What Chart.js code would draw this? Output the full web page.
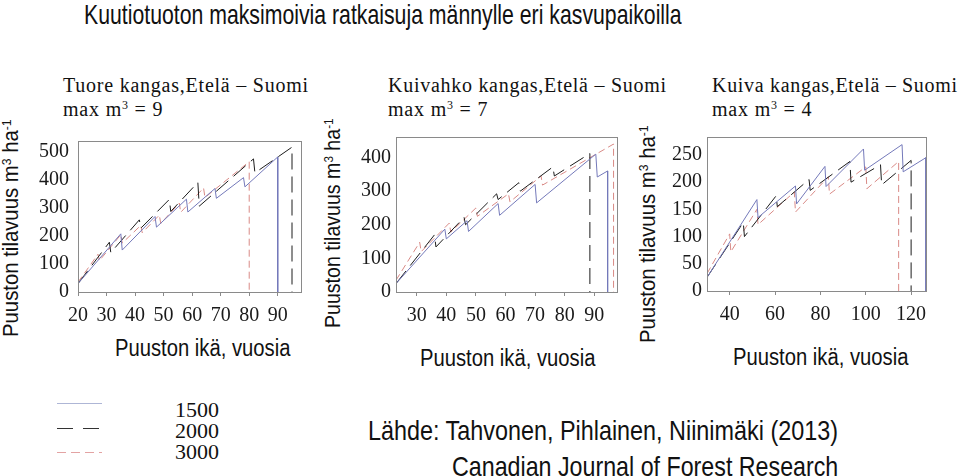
<!DOCTYPE html>
<html>
<head>
<meta charset="utf-8">
<script src="https://cdn.jsdelivr.net/npm/chart.js@4.4.1/dist/chart.umd.min.js"></script>
<style>
  html, body { margin: 0; padding: 0; background: #fff; }
  #page { position: relative; width: 960px; height: 476px; overflow: hidden; }
  .t { position: absolute; white-space: nowrap; line-height: 1; color: #111; transform-origin: left top; }
  .sans { font-family: "Liberation Sans", Arial, sans-serif; }
  .serif { font-family: "Liberation Serif", "Times New Roman", serif; }
  .t sup { font-size: 0.6em; vertical-align: baseline; position: relative; top: -0.55em; }
  canvas { position: absolute; }
  svg { position: absolute; left: 0; top: 380px; }
</style>
</head>
<body>
<div id="page">
  <div class="t sans fitx" data-w="598" style="left:84px;top:1px;font-size:28px;">Kuutiotuoton maksimoivia ratkaisuja männylle eri kasvupaikoilla</div>

  <div class="t serif fits" data-w="246" style="left:63px;top:75px;font-size:20px;">Tuore kangas,Etelä – Suomi</div>
  <div class="t serif fits" data-w="100" style="left:63px;top:99px;font-size:20px;">max m<sup>3</sup> = 9</div>
  <div class="t serif fits" data-w="279" style="left:388px;top:75px;font-size:20px;">Kuivahko kangas,Etelä – Suomi</div>
  <div class="t serif fits" data-w="100" style="left:388px;top:99px;font-size:20px;">max m<sup>3</sup> = 7</div>
  <div class="t serif fits" data-w="246" style="left:712px;top:75px;font-size:20px;">Kuiva kangas,Etelä – Suomi</div>
  <div class="t serif fits" data-w="100" style="left:712px;top:99px;font-size:20px;">max m<sup>3</sup> = 4</div>

  <div class="t sans fitx rot" data-w="218" style="left:0px;top:337px;font-size:22px;">Puuston tilavuus m<sup>3</sup> ha<sup>-1</sup></div>
  <div class="t sans fitx rot" data-w="210" style="left:322px;top:328px;font-size:22px;">Puuston tilavuus m<sup>3</sup> ha<sup>-1</sup></div>
  <div class="t sans fitx rot" data-w="218" style="left:637px;top:343px;font-size:22px;">Puuston tilavuus m<sup>3</sup> ha<sup>-1</sup></div>

  <div class="t sans fitx" data-w="175" style="left:115px;top:337px;font-size:23px;">Puuston ikä, vuosia</div>
  <div class="t sans fitx" data-w="175" style="left:420px;top:347px;font-size:23px;">Puuston ikä, vuosia</div>
  <div class="t sans fitx" data-w="175" style="left:733px;top:346px;font-size:23px;">Puuston ikä, vuosia</div>

  <canvas id="c1" width="320" height="230" style="left:0px;top:120px;"></canvas>
  <canvas id="c2" width="320" height="230" style="left:320px;top:120px;"></canvas>
  <canvas id="c3" width="330" height="230" style="left:630px;top:120px;"></canvas>

  <svg width="120" height="90">
    <line x1="57" y1="23.5" x2="102" y2="23.5" stroke="#aeb6d6" stroke-width="1.2"/>
    <line x1="57" y1="48.5" x2="102" y2="48.5" stroke="#333" stroke-width="1.2" stroke-dasharray="16 10"/>
    <line x1="57" y1="72.5" x2="102" y2="72.5" stroke="#e3a3a3" stroke-width="1.2" stroke-dasharray="9 5"/>
  </svg>
  <div class="t serif" id="lg0" style="left:175px;top:399px;font-size:22px;"></div>
  <div class="t serif" id="lg1" style="left:175px;top:420px;font-size:22px;"></div>
  <div class="t serif" id="lg2" style="left:175px;top:441px;font-size:22px;"></div>

  <div class="t sans fitx" data-w="470" style="left:368px;top:417px;font-size:28px;">Lähde: Tahvonen, Pihlainen, Niinimäki (2013)</div>
  <div class="t sans fitx" data-w="386" style="left:452px;top:453px;font-size:28px;">Canadian Journal of Forest Research</div>
</div>

<script>
// Sawtooth volume paths (age in years, volume m3/ha).
const seriesNames = ["1500", "2000", "3000"];

// Tuore kangas, max m3 = 9
const p1Age1500 = [20, 35, 35.5, 47, 47.5, 58, 58.5, 68, 68.5, 78, 78.5, 90, 90];
const p1Vol1500 = [30, 208, 150, 270, 232, 332, 286, 370, 335, 409, 376, 483, 0];
const p1Age2000 = [20, 31, 31.5, 41.5, 42, 52, 52.5, 62, 62.5, 81.5, 82, 95, 95];
const p1Vol2000 = [30, 178, 141, 258, 228, 331, 288, 392, 307, 476, 426, 518, 0];
const p1Age3000 = [20, 27, 27.5, 35, 35.5, 42, 42.5, 48.5, 49, 55.5, 56, 64, 64.5, 80, 80];
const p1Vol3000 = [35, 135, 112, 205, 175, 238, 212, 275, 245, 318, 285, 372, 338, 466, 0];
const p1AgeTicks = [20, 30, 40, 50, 60, 70, 80, 90];
const p1VolTicks = [0, 100, 200, 300, 400, 500];

// Kuivahko kangas, max m3 = 7
const p2Age1500 = [23, 39.5, 40, 47, 47.5, 57.5, 58, 70, 70.5, 90.5, 91, 94.5, 94.5];
const p2Vol1500 = [25, 187, 158, 212, 180, 263, 228, 320, 265, 410, 342, 360, 0];
const p2Age2000 = [23, 36, 36.5, 46, 46.5, 57, 57.5, 64.5, 65, 76, 76.5, 88.5, 88.5];
const p2Vol2000 = [25, 170, 134, 222, 200, 292, 275, 325, 300, 372, 345, 412, 0];
const p2Age3000 = [23, 31, 31.5, 41, 41.5, 50, 50.5, 61, 61.5, 72, 72.5, 96.5, 96.5];
const p2Vol3000 = [35, 148, 120, 205, 178, 250, 225, 292, 268, 345, 318, 440, 0];
const p2AgeTicks = [30, 40, 50, 60, 70, 80, 90];
const p2VolTicks = [0, 100, 200, 300, 400];

// Kuiva kangas, max m3 = 4
const p3Age1500 = [30, 52, 52.5, 69, 69.5, 82, 82.5, 99, 99.5, 116, 116.5, 126.5, 126.5];
const p3Vol1500 = [25, 168, 135, 193, 160, 229, 192, 261, 222, 269, 219, 245, 0];
const p3Age2000 = [30, 46, 46.5, 60.5, 61, 75, 75.5, 93, 93.5, 106.5, 107, 120, 120];
const p3Vol2000 = [25, 126, 100, 175, 155, 205, 185, 238, 200, 232, 195, 240, 0];
const p3Age3000 = [30, 40, 40.5, 52, 52.5, 68.5, 69, 83.5, 84, 100, 100.5, 114.5, 114.5];
const p3Vol3000 = [32, 105, 72, 150, 122, 182, 145, 210, 178, 228, 188, 238, 0];
const p3AgeTicks = [40, 60, 80, 100, 120];
const p3VolTicks = [0, 50, 100, 150, 200, 250];

const BLUE = "#7479ba";
const BLACK = "#1c1c1c";
const RED = "#d98a86";
const TICK_FONT = { family: "'Liberation Serif', 'Times New Roman', serif", size: 20 };

seriesNames.forEach((n, i) => (document.getElementById("lg" + i).textContent = n));

// text sizing: squeeze the narrow sans lines, letter-space the serif ones
document.querySelectorAll(".fitx").forEach((e) => {
  const s = Number(e.dataset.w) / e.offsetWidth;
  e.style.transform = (e.classList.contains("rot") ? "rotate(-90deg) " : "") + `scaleX(${s})`;
});
document.querySelectorAll(".fits").forEach((e) => {
  const n = e.textContent.length;
  e.style.letterSpacing = (Number(e.dataset.w) - e.offsetWidth) / n + "px";
});

const frame = {
  id: "frame",
  afterDatasetsDraw(chart) {
    const { ctx, chartArea: a } = chart;
    ctx.save();
    ctx.strokeStyle = "#8a8a8a";
    ctx.lineWidth = 1;
    ctx.strokeRect(Math.round(a.left) + 0.5, Math.round(a.top) + 0.5, Math.round(a.width) - 1, Math.round(a.height));
    ctx.restore();
  },
};

function pts(ages, vols) {
  return ages.map((a, i) => ({ x: a, y: vols[i] }));
}

function ds(label, ages, vols, color, dash) {
  return {
    label,
    data: pts(ages, vols),
    borderColor: color,
    borderWidth: 1,
    borderDash: dash,
    pointRadius: 0,
    tension: 0,
    fill: false,
  };
}

function panel(id, o) {
  return new Chart(document.getElementById(id), {
    type: "line",
    data: {
      datasets: [
        ds(seriesNames[0], o.a1500, o.v1500, BLUE, []),
        ds(seriesNames[1], o.a2000, o.v2000, BLACK, [16, 7]),
        ds(seriesNames[2], o.a3000, o.v3000, RED, [7, 4]),
      ],
    },
    options: {
      responsive: false,
      animation: false,
      layout: { padding: { top: 11, right: o.right, left: 0, bottom: 0 } },
      plugins: { legend: { display: false }, tooltip: { enabled: false } },
      scales: {
        x: {
          type: "linear",
          min: o.xMin,
          max: o.xMax,
          afterBuildTicks: (s) => (s.ticks = o.xTicks.map((v) => ({ value: v }))),
          afterFit: (s) => (s.height = o.xH),
          grid: { drawOnChartArea: false, tickLength: 4, color: "#8a8a8a" },
          border: { display: false },
          ticks: { font: TICK_FONT, color: "#1a1a1a", padding: 8, maxRotation: 0 },
        },
        y: {
          min: 0,
          max: o.yMax,
          afterBuildTicks: (s) => (s.ticks = o.yTicks.map((v) => ({ value: v }))),
          afterFit: (s) => (s.width = o.yW),
          grid: { display: false, drawTicks: false },
          border: { display: false },
          ticks: { font: TICK_FONT, color: "#1a1a1a", padding: o.yPad },
        },
      },
    },
    plugins: [frame],
  });
}

panel("c1", {
  a1500: p1Age1500, v1500: p1Vol1500, a2000: p1Age2000, v2000: p1Vol2000, a3000: p1Age3000, v3000: p1Vol3000,
  xMin: 20, xMax: 98.5, yMax: 540, xTicks: p1AgeTicks, yTicks: p1VolTicks,
  right: 18, xH: 58, yW: 78, yPad: 9,
});
panel("c2", {
  a1500: p2Age1500, v1500: p2Vol1500, a2000: p2Age2000, v2000: p2Vol2000, a3000: p2Age3000, v3000: p2Vol3000,
  xMin: 23, xMax: 98, yMax: 461, xTicks: p2AgeTicks, yTicks: p2VolTicks,
  right: 22, xH: 58, yW: 76, yPad: 5,
});
panel("c3", {
  a1500: p3Age1500, v1500: p3Vol1500, a2000: p3Age2000, v2000: p3Vol2000, a3000: p3Age3000, v3000: p3Vol3000,
  xMin: 30, xMax: 127, yMax: 283, xTicks: p3AgeTicks, yTicks: p3VolTicks,
  right: 33, xH: 59, yW: 77, yPad: 5,
});
</script>
</body>
</html>
